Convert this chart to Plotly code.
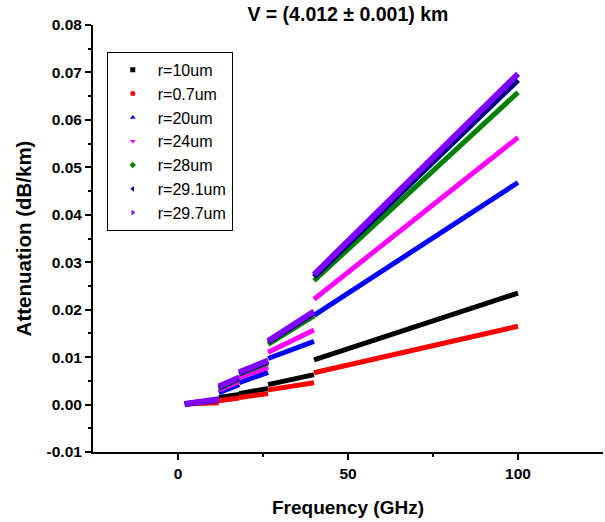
import plotly.graph_objects as go

# Frequency bands (GHz): start and end of each measured segment
band_start = [2, 12, 18, 26.5, 40]
band_end = [12, 18, 26.5, 40, 100]

# Attenuation (dB/km) at start / end of each band
series_names = ["r=10um", "r=0.7um", "r=20um", "r=24um", "r=28um", "r=29.1um", "r=29.7um"]
att_start = {
    "r=10um":   [0.0001, 0.0015, 0.0023, 0.0042, 0.0094],
    "r=0.7um":  [0.0001, 0.0008, 0.0015, 0.0031, 0.0067],
    "r=20um":   [0.0001, 0.0025, 0.0046, 0.0097, 0.0188],
    "r=24um":   [0.0001, 0.0031, 0.0057, 0.0110, 0.0222],
    "r=28um":   [0.0001, 0.0034, 0.0064, 0.0127, 0.0261],
    "r=29.1um": [0.0001, 0.0036, 0.0066, 0.0132, 0.0269],
    "r=29.7um": [0.0001, 0.0038, 0.0068, 0.0134, 0.0274],
}
att_end = {
    "r=10um":   [0.0007, 0.0021, 0.0034, 0.0063, 0.0235],
    "r=0.7um":  [0.0004, 0.0014, 0.0023, 0.0046, 0.0165],
    "r=20um":   [0.0009, 0.0042, 0.0068, 0.0133, 0.0468],
    "r=24um":   [0.0010, 0.0048, 0.0079, 0.0157, 0.0563],
    "r=28um":   [0.0010, 0.0053, 0.0088, 0.0187, 0.0658],
    "r=29.1um": [0.0010, 0.0056, 0.0091, 0.0193, 0.0684],
    "r=29.7um": [0.0011, 0.0057, 0.0093, 0.0196, 0.0697],
}

colors = ["#000000", "#FF0000", "#0000FF", "#FF00FF", "#008000", "#000080", "#8000FF"]
symbols = ["square", "circle", "triangle-up", "triangle-down", "diamond", "triangle-left", "triangle-right"]
widths = [5, 5, 5, 5, 5, 5.5, 6]

y_tickvals = [-0.01, 0.0, 0.01, 0.02, 0.03, 0.04, 0.05, 0.06, 0.07, 0.08]
y_ticktext = ["-0.01", "0.00", "0.01", "0.02", "0.03", "0.04", "0.05", "0.06", "0.07", "0.08"]
x_tickvals = [0, 50, 100]
x_ticktext = ["0", "50", "100"]

FONT = "Liberation Sans, Arial"

fig = go.Figure()
for name, col, sym, w in zip(series_names, colors, symbols, widths):
    xs, ys = [], []
    for a, b, ya, yb in zip(band_start, band_end, att_start[name], att_end[name]):
        xs += [a, b, None]
        ys += [ya, yb, None]
    fig.add_trace(go.Scatter(x=xs, y=ys, mode="lines", line=dict(color=col, width=w),
                             showlegend=False, hoverinfo="skip"))
for name, col, sym in zip(series_names, colors, symbols):
    fig.add_trace(go.Scatter(x=[None], y=[None], mode="markers", name=name,
                             marker=dict(color=col, symbol=sym, size=5)))

axis_common = dict(showgrid=False, zeroline=False, showline=True, linecolor="black", linewidth=2,
                   ticks="outside", tickwidth=2, ticklen=6, tickcolor="black",
                   tickfont=dict(family=FONT, size=15.5, color="black", weight="bold"))

fig.update_layout(
    width=605, height=522,
    margin=dict(l=93, r=2, t=25, b=70),
    plot_bgcolor="white", paper_bgcolor="white",
    title=dict(text="<b>V = (4.012 ± 0.001) km</b>", x=0.575, xanchor="center", y=0.972, yanchor="middle",
               font=dict(family=FONT, size=19.5, color="black")),
    xaxis=dict(range=[-25, 125], tickvals=x_tickvals, ticktext=x_ticktext,
               minor=dict(tickvals=[25, 75], ticks="outside", ticklen=3, tickwidth=2, tickcolor="black"),
               title=dict(text="<b>Frequency (GHz)</b>", standoff=20,
                          font=dict(family=FONT, size=19, color="black")),
               **axis_common),
    yaxis=dict(range=[-0.01, 0.08], tickvals=y_tickvals, ticktext=y_ticktext,
               minor=dict(dtick=0.005, ticks="outside", ticklen=3, tickwidth=2, tickcolor="black"),
               title=dict(text="<b>Attenuation (dB/km)</b>", standoff=9,
                          font=dict(family=FONT, size=20.5, color="black")),
               **axis_common),
    legend=dict(x=0.027, y=0.937, xanchor="left", yanchor="top", bordercolor="black", borderwidth=1,
                bgcolor="white", font=dict(family=FONT, size=16, color="black"),
                tracegroupgap=0, itemwidth=40),
)
fig.write_html("out.html")
